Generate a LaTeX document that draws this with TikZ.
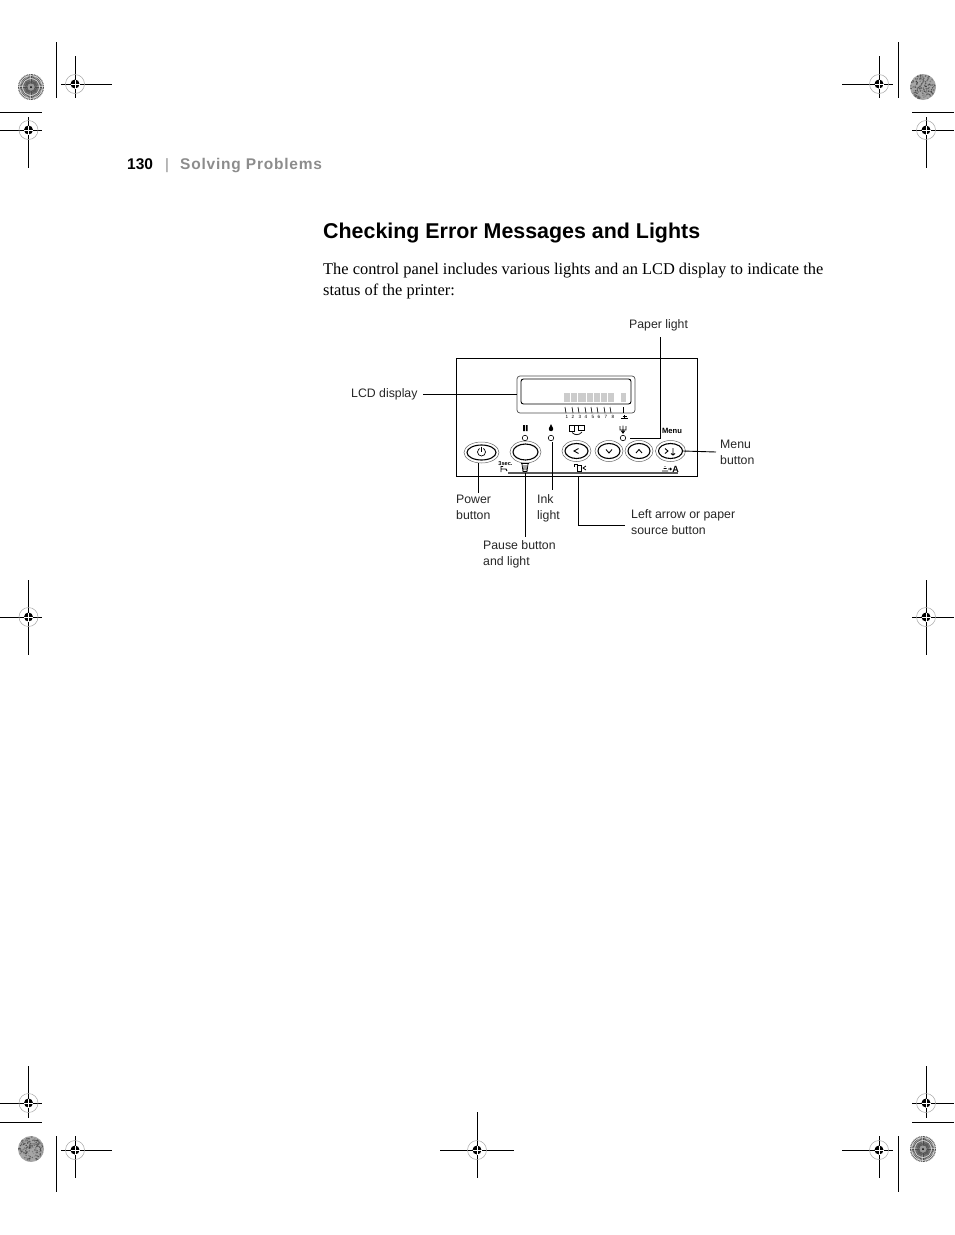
\documentclass[tikz,border=0pt]{standalone}
\usepackage{fontspec}
\setmainfont{Liberation Serif}
\setsansfont{Liberation Sans}
\newfontfamily\spacedsans[LetterSpace=5]{Liberation Sans}
\usetikzlibrary{shapes.geometric}
\definecolor{headgray}{gray}{0.55}
\tikzset{
  leader/.style={line width=0.9pt},
  callout/.style={font=\sffamily\fontsize{12.3}{16}\selectfont, align=left, anchor=north west, inner sep=0pt, text=black!85},
  panelkey/.style={ellipse, draw, line width=1.1pt, inner sep=0pt},
  keyhalo/.style={ellipse, draw=black!60, line width=0.5pt, inner sep=0pt},
  lamp/.style={circle, draw, line width=0.6pt, minimum size=5.5pt, inner sep=0pt},
  tinylabel/.style={font=\sffamily\bfseries\fontsize{7.6}{8}\selectfont, inner sep=0pt},
  digit/.style={font=\sffamily\fontsize{4.6}{5}\selectfont, inner sep=0pt}
}
% #1,#2 centre, then arm lengths north, south, west, east
\newcommand{\regmark}[6]{
  \draw[line width=0.9pt] (#1,#2-#3) -- (#1,#2+#4) (#1-#5,#2) -- (#1+#6,#2);
  \draw[gray!70, line width=0.5pt] (#1,#2) circle (9.5);
  \fill (#1,#2) circle (4.5);
  \draw[white, line width=0.5pt] (#1-4.5,#2) -- (#1+4.5,#2) (#1,#2-4.5) -- (#1,#2+4.5);
}
\newcommand{\burstdisc}[2]{
  \fill[gray!55] (#1,#2) circle (13);
  \foreach \a in {0,7.5,...,352.5} {
    \draw[black!70, line width=0.55pt] (#1,#2) ++(\a:3.5) -- ++(\a:9.5);
  }
  \draw[white!75!gray, line width=0.6pt] (#1,#2) circle (8.5) circle (11.5);
  \fill[gray!80] (#1,#2) circle (3.5);
  \fill (#1,#2) circle (1);
}
\newcommand{\grainydisc}[2]{
  \fill[gray!70] (#1,#2) circle (13);
  \foreach \k in {1,...,150} {
    \pgfmathsetmacro{\ang}{rnd*360}
    \pgfmathsetmacro{\rad}{sqrt(rnd)*12.2}
    \pgfmathsetmacro{\shade}{rnd*35+40}
    \fill[black!\shade] (#1,#2) ++(\ang:\rad) circle (0.8);
  }
}
\begin{document}
\begin{tikzpicture}[x=1pt, y=-1pt]
\useasboundingbox (0,0) rectangle (954,1235);
\pgfmathsetseed{130}
% Crop and registration marks
\regmark{75}{84}{28}{14}{14}{37}
\regmark{28.5}{130}{13}{38}{28.5}{13.5}
\regmark{879}{84}{28}{14}{37}{14}
\regmark{926}{130}{13}{38}{14}{28}
\regmark{28.5}{617}{37}{38}{28.5}{13.5}
\regmark{926}{617}{37}{38}{14}{28}
\regmark{28.5}{1103}{37}{15}{28.5}{13.5}
\regmark{75}{1150}{14}{28}{14}{37}
\regmark{477}{1150}{38}{28}{37}{37}
\regmark{879}{1150}{14}{28}{37}{14}
\regmark{926}{1103}{37}{15}{14}{28}
\draw[line width=0.9pt] (56.5,42) -- (56.5,98) (898,42) -- (898,98);
\draw[line width=0.9pt] (56.5,1136) -- (56.5,1192) (898,1136) -- (898,1192);
\draw[line width=0.9pt] (0,112) -- (42,112) (912,112) -- (954,112);
\draw[line width=0.9pt] (0,1122) -- (42,1122) (912,1122) -- (954,1122);
\burstdisc{31}{87}
\grainydisc{923}{87}
\grainydisc{31}{1149}
\burstdisc{923}{1149}
% Page text
\node[anchor=base west, inner sep=0pt, font=\sffamily\bfseries\fontsize{15.5}{18}\selectfont] (pageno) at (127,169) {130};
\node[anchor=base west, inner sep=0pt, text=headgray, font=\sffamily\fontsize{15}{18}\selectfont] (pagebar) at (165,169) {|};
\node[anchor=base west, inner sep=0pt, text=headgray, font=\spacedsans\bfseries\fontsize{15.5}{18}\selectfont] (chapter) at (180,169) {Solving Problems};
\node[anchor=base west, inner sep=0pt, font=\sffamily\bfseries\fontsize{21.4}{26}\selectfont] (title) at (323,238) {Checking Error Messages and Lights};
\node[anchor=base west, inner sep=0pt, font=\fontsize{16.4}{21}\selectfont] (introa) at (323,274) {The control panel includes various lights and an LCD display to indicate the};
\node[anchor=base west, inner sep=0pt, font=\fontsize{16.4}{21}\selectfont] (introb) at (323,295) {status of the printer:};
% Panel
\node[draw, line width=0.9pt, minimum width=241pt, minimum height=118pt, inner sep=0pt] (panel) at (577,417.5) {};
\node[draw=black!70, line width=0.7pt, rounded corners=3pt, minimum width=118pt, minimum height=37pt, inner sep=0pt] (lcdbezel) at (576,394.5) {};
\node[draw, line width=0.9pt, rounded corners=2.5pt, minimum width=110pt, minimum height=25pt, inner sep=0pt] (lcd) at (576,391.5) {};
\foreach \xa/\xb in {564/570,571/577,578/586,587/593,594/600,601/607,608/614,621/626} {
  \fill[gray!40] (\xa,393) rectangle (\xb,402);
}
% LCD scale
\foreach \xt/\xd/\lab in {565/567/1,572/573/2,578/580/3,585/586/4,591/593/5,597/599/6,604/606/7,610/613/8} {
  \draw[line width=0.6pt] (\xt,407) -- (\xt+1,413);
  \node[digit] (dig\lab) at (\xd,417) {\lab};
}
\draw[line width=0.6pt] (623,407) -- (623,413);
\draw[line width=0.6pt] (621,418) -- (628,418) (624.5,418) -- (624.5,414.5) (622.5,416) -- (626.5,416);
% Keys
\foreach \keyname/\xk/\yk/\wk/\hk in {powerkey/481.5/452.5/29/15, pausekey/525.5/452/25/16, leftkey/576.5/451/23/15, downkey/609/451/22/15, upkey/639/451/22/15, menukey/670.5/451/24/15} {
  \node[keyhalo, minimum width=\wk pt+6pt, minimum height=\hk pt+6pt] (\keyname halo) at (\xk,\yk) {};
  \node[panelkey, minimum width=\wk pt, minimum height=\hk pt] (\keyname) at (\xk,\yk) {};
}
\draw[line width=0.7pt] (481.5,452) circle (4);
\draw[white, line width=1.6pt] (480.2,448) -- (482.8,448);
\draw[line width=0.7pt] (481.5,446.5) -- (481.5,451.5);
\draw[line width=0.9pt] (578.5,448.5) -- (574,451) -- (578.5,453.5);
\draw[line width=0.9pt] (606,449.5) -- (609,453) -- (612,449.5);
\draw[line width=0.9pt] (636,453) -- (639,449.5) -- (642,453);
\draw[line width=0.9pt] (665,448.5) -- (668,451) -- (665,453.5) (671,453.5) -- (673,455) -- (675,453.5) (673,455) -- (673,448);
% Lights and marks
\node[lamp] (pauselamp) at (525,438) {};
\node[lamp] (inklamp) at (551,438) {};
\node[lamp] (paperlamp) at (623,438) {};
\fill (523,425) rectangle (524.8,431) (525.8,425) rectangle (527.6,431);
\fill (551,424) -- (548.9,428.6) -- (553.1,428.6) -- cycle;
\fill (551,429) circle (2.2);
\draw[line width=0.7pt] (569,425) rectangle (574.5,431);
\draw[line width=0.7pt] (578,425) rectangle (584,430.5);
\draw[line width=0.7pt] (574.5,425) -- (578,425);
\draw[line width=0.7pt] (572,432.5) .. controls (575,435.5) and (579,435.5) .. (582,432);
\draw[line width=0.9pt] (620,426) -- (620,430) -- (626,430) -- (626,426) (623,425.5) -- (623,433) (621.5,431) -- (623,433) -- (624.5,431);
\node[tinylabel] (menutag) at (672,430.5) {Menu};
\node[tinylabel, font=\sffamily\bfseries\fontsize{5.6}{6}\selectfont] (secs) at (505.5,463.5) {3sec.};
\draw[line width=0.9pt] (501,472) -- (501,466.5) -- (503,466.5) (501,469) -- (506,469) -- (507,471);
% Trash, paper source and A marks
\draw[line width=0.8pt] (521,463.5) -- (529,463.5) (522,464) -- (523,471.5) -- (527,471.5) -- (528,464) (524,465) -- (524,470) (526,465) -- (526,470);
\draw[line width=0.9pt] (574,464) -- (578,464) (574.5,464) -- (574.5,467);
\draw[line width=1pt] (577,465.5) rectangle (581.5,471);
\draw[line width=0.8pt] (586,466) -- (583,468) -- (586,470);
\node[tinylabel, font=\sffamily\bfseries\fontsize{9}{9}\selectfont] (atag) at (675.5,469) {A};
\draw[line width=0.7pt] (662,471) -- (668,471) (663.5,468.5) -- (666.5,468.5) (665,466) -- (665,466.8) (668,469) -- (671.5,469) (670,467.8) -- (671.5,469) -- (670,470.2);
\draw[black!65, line width=1.3pt] (508,473) -- (678,473);
% Callouts
\node[callout] (lcdlab) at (351,388) {LCD display};
\node[callout] (paperlab) at (629,319) {Paper light};
\node[callout] (menulab) at (720,440) {Menu\\button};
\node[callout] (powerlab) at (456,495) {Power\\button};
\node[callout] (inklab) at (537,494) {Ink\\light};
\node[callout] (arrowlab) at (631,509) {Left arrow or paper\\source button};
\node[callout] (pauselab) at (483,540) {Pause button\\and light};
\coordinate (lcdend) at (423,394);
\coordinate (paperend) at (660,337);
\coordinate (paperbend) at (660,438);
\coordinate (menuend) at (716,452);
\coordinate (arrowend) at (625,525);
\coordinate (arrowbend) at (578,525);
\draw[leader] (lcdend) -- (lcdbezel.west |- lcdend);
\draw[leader] (paperend) -- (paperbend) -- (630,438);
\draw[leader] (menukey.east) -- (menuend);
\draw[leader] (478.5,463) -- (478.5,493);
\draw[leader] (525.5,473) -- (525.5,537);
\draw[leader] (552,442) -- (552,490);
\draw[leader] (578,476) -- (arrowbend) -- (arrowend);
\end{tikzpicture}
\end{document}
